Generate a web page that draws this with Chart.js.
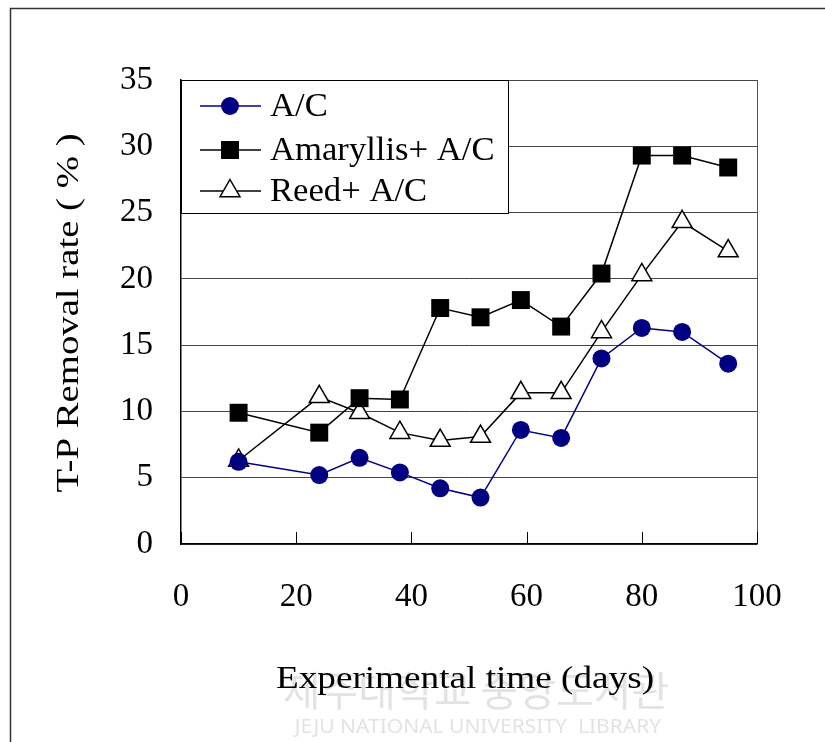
<!DOCTYPE html>
<html>
<head>
<meta charset="utf-8">
<script src="https://cdn.jsdelivr.net/npm/chart.js@4.4.0/dist/chart.umd.min.js"></script>
<style>
  html, body { margin: 0; padding: 0; background: #fff; }
</style>
</head>
<body>
<canvas id="lineChart" width="825" height="742"></canvas>
<script>
// data
var days = [10, 24, 31, 38, 45, 52, 59, 66, 73, 80, 87, 95];
var acValues = [6.2, 5.2, 6.5, 5.4, 4.2, 3.5, 8.6, 8.0, 14.0, 16.3, 16.0, 13.6];
var amaryllisValues = [9.9, 8.4, 11.0, 10.9, 17.8, 17.1, 18.4, 16.4, 20.4, 29.3, 29.3, 28.4];
var reedValues = [6.3, 11.1, 9.9, 8.4, 7.8, 8.1, 11.4, 11.4, 16.0, 20.3, 24.3, 22.1];
var seriesNames = ["A/C", "Amaryllis+ A/C", "Reed+ A/C"];
var xTitle = "Experimental time (days)";
var yTitle = "T-P Removal rate ( % )";

var serif = "'Liberation Serif', 'DejaVu Serif', serif";

function toPoints(vals) {
  return days.map(function (d, i) { return { x: d, y: vals[i] }; });
}

function drawMarker(c, style, x, y) {
  c.save();
  c.beginPath();
  if (style === "circle") {
    c.arc(x, y, 9, 0, Math.PI * 2);
    c.fillStyle = "#000080";
    c.fill();
  } else if (style === "rect") {
    c.fillStyle = "#000";
    c.fillRect(x - 9, y - 9, 18, 18);
  } else {
    var r = 11.5;
    c.moveTo(x, y - r);
    c.lineTo(x + r * 0.866, y + r * 0.5);
    c.lineTo(x - r * 0.866, y + r * 0.5);
    c.closePath();
    c.fillStyle = "#fff";
    c.fill();
    c.lineWidth = 1.5;
    c.strokeStyle = "#000";
    c.stroke();
  }
  c.restore();
}

// text squeezed/stretched horizontally to match the wider original face
function wideText(c, txt, x, y, sx) {
  c.save();
  c.translate(x, y);
  c.scale(sx, 1);
  c.fillText(txt, 0, 0);
  c.restore();
}

var extras = {
  id: "extras",
  beforeDraw: function (chart) {
    var c = chart.ctx;
    c.save();
    // faint library watermark
    c.fillStyle = "#e3e3e3";
    c.font = "41px 'Noto Sans CJK KR'";
    c.textAlign = "center";
    c.textBaseline = "middle";
    c.fillText("제주대학교 중앙도서관", 476, 690);
    c.font = "20px 'Noto Sans'";
    wideText(c, "JEJU NATIONAL UNIVERSITY  LIBRARY", 478, 727, 1.05);
    // outer frame
    c.strokeStyle = "#333";
    c.lineWidth = 1.5;
    c.strokeRect(10.5, 8.5, 900, 900);
    c.restore();
  },
  afterDatasetsDraw: function (chart) {
    var c = chart.ctx;
    var xs = chart.scales.x;
    var area = chart.chartArea;
    c.save();
    // inward tick marks on the time axis
    c.strokeStyle = "#000";
    c.lineWidth = 1;
    xs.ticks.forEach(function (t) {
      var px = Math.round(xs.getPixelForValue(t.value)) + 0.5;
      c.beginPath();
      c.moveTo(px, area.bottom);
      c.lineTo(px, area.bottom - 12);
      c.stroke();
    });

    // legend box in the upper-left corner of the plot
    var lx = area.left, ly = area.top, lw = 327, lh = 133;
    c.fillStyle = "#fff";
    c.fillRect(lx, ly, lw, lh);
    c.strokeStyle = "#000";
    c.lineWidth = 1;
    c.strokeRect(lx + 0.5, ly + 0.5, lw, lh);
    var rows = [26, 70, 111];
    chart.data.datasets.forEach(function (ds, i) {
      var ry = ly + rows[i];
      c.beginPath();
      c.strokeStyle = ds.borderColor;
      c.lineWidth = 1.5;
      c.moveTo(lx + 19, ry);
      c.lineTo(lx + 80, ry);
      c.stroke();
      drawMarker(c, ds.pointStyle, lx + 49, ry);
      c.fillStyle = "#000";
      c.font = "33px " + serif;
      c.textAlign = "left";
      c.textBaseline = "middle";
      wideText(c, ds.label, lx + 89, ry + 1, 1.05);
    });

    // axis titles
    c.fillStyle = "#000";
    c.font = "31px " + serif;
    c.textAlign = "center";
    c.textBaseline = "middle";
    wideText(c, xTitle, 465, 680, 1.2);
    c.translate(70, 313);
    c.rotate(-Math.PI / 2);
    wideText(c, yTitle, 0, 0, 1.25);
    c.restore();
  }
};

var ctx = document.getElementById("lineChart").getContext("2d");
var myChart = new Chart(ctx, {
  type: "line",
  data: {
    datasets: [
      {
        label: seriesNames[0],
        data: toPoints(acValues),
        borderColor: "#000080",
        backgroundColor: "#000080",
        pointStyle: "circle",
        pointRadius: 9,
        pointBorderWidth: 0,
        borderWidth: 1.5,
      },
      {
        label: seriesNames[1],
        data: toPoints(amaryllisValues),
        borderColor: "#000",
        backgroundColor: "#000",
        pointStyle: "rect",
        pointRadius: 12.7,
        pointBorderWidth: 0,
        borderWidth: 1.5,
      },
      {
        label: seriesNames[2],
        data: toPoints(reedValues),
        borderColor: "#000",
        backgroundColor: "#fff",
        pointStyle: "triangle",
        pointRadius: 11.5,
        pointBorderWidth: 1.5,
        borderWidth: 1.5,
      },
    ],
  },
  options: {
    responsive: false,
    animation: false,
    devicePixelRatio: 1,
    layout: { padding: { left: 10, right: 68, top: 80, bottom: 0 } },
    plugins: { legend: { display: false }, tooltip: { enabled: false } },
    scales: {
      x: {
        type: "linear",
        min: 0,
        max: 100,
        afterFit: function (s) { s.height = 198; },
        ticks: { stepSize: 20, padding: 34, color: "#000", font: { family: serif, size: 33 } },
        grid: {
          drawTicks: false,
          color: function (c) { return c.tick && c.tick.value === 100 ? "#555" : "rgba(0,0,0,0)"; },
        },
        border: { color: "#000", width: 1.5 },
      },
      y: {
        min: 0,
        max: 35,
        afterFit: function (s) { s.width = 171; },
        ticks: { stepSize: 5, padding: 28, color: "#000", font: { family: serif, size: 33 } },
        grid: { drawTicks: false, color: "#444" },
        border: { color: "#000", width: 1.5 },
      },
    },
  },
  plugins: [extras],
});
</script>
</body>
</html>
